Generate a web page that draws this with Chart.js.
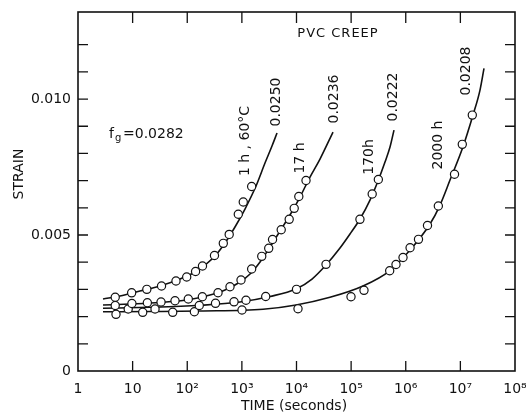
<!DOCTYPE html>
<html>
<head>
<meta charset="utf-8">
<script src="https://cdn.jsdelivr.net/npm/chart.js@4"></script>
<style>
  html, body { margin:0; padding:0; background:#fff; }
  #wrap { width:526px; height:417px; position:relative; }
</style>
</head>
<body>
<div id="wrap"><canvas id="creepChart"></canvas></div>
<script>
// axis ticks
const xTickValues = [1, 10, 1e2, 1e3, 1e4, 1e5, 1e6, 1e7, 1e8];
const xTickLabels = ['1', '10', '10²', '10³', '10⁴', '10⁵', '10⁶', '10⁷', '10⁸'];
const yTickValues = [0, 0.005, 0.010];
const yTickLabels = ['0', '0.005', '0.010'];

// measured points (time in s, strain)
const c1Time = [4.8, 9.6, 18.2, 33.8, 62.2, 97.7, 142, 190, 315, 457, 586, 860, 1060, 1510];
const c1Strain = [0.00271, 0.002875, 0.003003, 0.003125, 0.003309, 0.003456, 0.003658, 0.00386, 0.004246, 0.004694, 0.005022, 0.005764, 0.006213, 0.006782];
const c2Time = [4.8, 9.7, 18.6, 33.1, 59.7, 104.5, 189, 366, 606, 964, 1510, 2310, 3100, 3640, 5250, 7350, 9080, 11020, 14930];
const c2Strain = [0.002408, 0.002481, 0.002511, 0.002536, 0.002584, 0.002647, 0.002731, 0.002878, 0.003099, 0.003345, 0.00375, 0.004216, 0.004511, 0.004834, 0.005194, 0.005577, 0.005981, 0.006415, 0.007003];
const c3Time = [8.3, 25.7, 166, 329, 718, 1190, 2730, 10000, 34700, 145000, 243000, 315000];
const c3Strain = [0.002279, 0.002279, 0.002408, 0.002489, 0.002544, 0.002603, 0.002739, 0.003003, 0.003922, 0.005577, 0.006507, 0.00704];
const c4Time = [4.96, 15.3, 54.2, 135, 1005, 10650, 99500, 172000, 508000, 663000, 891000, 1.2e6, 1.71e6, 2.5e6, 3.95e6, 7.81e6, 1.084e7, 1.653e7];
const c4Strain = [0.002084, 0.002158, 0.002158, 0.00218, 0.002242, 0.00229, 0.002731, 0.002967, 0.003687, 0.003915, 0.004172, 0.004533, 0.004841, 0.005349, 0.006065, 0.007234, 0.008333, 0.00941];

// fitted curves
const f1Time = [2.87, 5.87, 13.6, 31.7, 73.7, 139, 211, 322, 491, 748, 1140, 1815, 2650, 3560, 4400];
const f1Strain = [0.002647, 0.002757, 0.002941, 0.003125, 0.003382, 0.003639, 0.003897, 0.004228, 0.004705, 0.005294, 0.005955, 0.006801, 0.007646, 0.008272, 0.008749];
const f2Time = [2.87, 8.95, 31.7, 112, 261, 491, 924, 1410, 2150, 3270, 4990, 7600, 11590, 17660, 26920, 46600];
const f2Strain = [0.002426, 0.002463, 0.002518, 0.002628, 0.002794, 0.002978, 0.003272, 0.003566, 0.004007, 0.004558, 0.005146, 0.005735, 0.006396, 0.007131, 0.007793, 0.008786];
const f3Time = [2.87, 20.8, 171, 924, 3270, 9800, 19230, 34670, 62550, 95340, 145400, 221600, 310500, 417000, 515000, 609500];
const f3Strain = [0.002305, 0.002342, 0.002415, 0.002536, 0.002739, 0.003014, 0.003382, 0.003897, 0.004521, 0.005036, 0.005588, 0.006286, 0.006984, 0.007683, 0.008234, 0.008859];
const f4Time = [2.87, 20.8, 171, 2440, 9800, 41050, 165000, 515000, 1.2e6, 2.78e6, 4.24e6, 6.46e6, 1.117e7, 1.703e7, 2.287e7, 2.707e7];
const f4Strain = [0.002176, 0.002187, 0.002206, 0.002268, 0.002426, 0.002709, 0.003125, 0.003694, 0.004448, 0.005404, 0.006102, 0.007021, 0.008245, 0.00941, 0.01033, 0.011127];

// curve labels
const agingLabels = ['1 h , 60°C', '17 h', '170h', '2000 h'];
const fgLabels = ['0.0250', '0.0236', '0.0222', '0.0208'];

const INK = '#111';
const FONT = '"DejaVu Sans", sans-serif';

function pts(xs, ys){
  return xs.map((x,i)=>({ x, y: ys[i] }));
}

function circles(xs, ys){
  return {
    data: pts(xs, ys), showLine:false, order:0,
    pointRadius:4.1, pointBackgroundColor:'#fff', pointBorderColor:INK, pointBorderWidth:1.2
  };
}

function fitLine(xs, ys){
  return {
    data: pts(xs, ys), showLine:true, order:1, fill:false,
    borderColor:INK, borderWidth:1.6, pointRadius:0, cubicInterpolationMode:'monotone'
  };
}

// frame, inward ticks and annotations
const decorPlugin = {
  id:'decor',
  afterDraw(chart){
    const { ctx, chartArea:a, scales:{ x, y } } = chart;
    ctx.save();
    ctx.strokeStyle = INK;
    ctx.lineWidth = 1.6;
    ctx.strokeRect(a.left, a.top, a.right - a.left, a.bottom - a.top);

    ctx.lineWidth = 1.3;
    ctx.beginPath();
    for(let i=1;i<xTickValues.length-1;i++){
      const px = x.getPixelForValue(xTickValues[i]);
      ctx.moveTo(px, a.bottom); ctx.lineTo(px, a.bottom - 10);
      ctx.moveTo(px, a.top); ctx.lineTo(px, a.top + 11);
    }
    for(let k=1;k<=12;k++){
      const py = y.getPixelForValue(k/1000);
      ctx.moveTo(a.left, py); ctx.lineTo(a.left + 10, py);
      ctx.moveTo(a.right, py); ctx.lineTo(a.right - 10, py);
    }
    ctx.stroke();

    ctx.fillStyle = INK;
    ctx.textBaseline = 'middle';
    ctx.textAlign = 'center';

    // axis titles
    ctx.font = '14px ' + FONT;
    ctx.fillText('TIME (seconds)', 294, 406);
    rotText(ctx, 'STRAIN', 19, 174, '14px ' + FONT);

    ctx.font = '13px ' + FONT;
    ctx.letterSpacing = '1px';
    ctx.fillText('PVC CREEP', 338, 34);
    ctx.letterSpacing = '0px';

    // f_g = 0.0282
    ctx.textAlign = 'left';
    ctx.textBaseline = 'alphabetic';
    ctx.font = '14px ' + FONT;
    ctx.fillText('f', 109, 138);
    ctx.font = '10px ' + FONT;
    ctx.fillText('g', 115, 141);
    ctx.font = '14px ' + FONT;
    ctx.fillText('=0.0282', 123, 138);

    const agingPos = [[245,141],[300,158],[369,157],[438,145]];
    const fgPos = [[276,102],[334,99],[393,97],[466,71]];
    agingLabels.forEach((t,i)=> rotText(ctx, t, agingPos[i][0], agingPos[i][1], '14px ' + FONT));
    fgLabels.forEach((t,i)=> rotText(ctx, t, fgPos[i][0], fgPos[i][1], '14px ' + FONT));
    ctx.restore();
  }
};

function rotText(ctx, text, cx, cy, font){
  ctx.save();
  ctx.translate(cx, cy);
  ctx.rotate(-Math.PI/2);
  ctx.font = font;
  ctx.textAlign = 'center';
  ctx.textBaseline = 'middle';
  ctx.fillText(text, 0, 0);
  ctx.restore();
}

new Chart(document.getElementById('creepChart').getContext('2d'), {
  type:'scatter',
  data:{
    datasets:[
      circles(c1Time, c1Strain), circles(c2Time, c2Strain),
      circles(c3Time, c3Strain), circles(c4Time, c4Strain),
      fitLine(f1Time, f1Strain), fitLine(f2Time, f2Strain),
      fitLine(f3Time, f3Strain), fitLine(f4Time, f4Strain)
    ]
  },
  options:{
    animation:false,
    responsive:true,
    maintainAspectRatio:false,
    layout:{ padding:{ top:12, right:11, left:0, bottom:0 } },
    plugins:{ legend:{display:false}, tooltip:{enabled:false} },
    scales:{
      x:{
        type:'logarithmic', min:1, max:1e8,
        grid:{display:false, drawTicks:false},
        border:{display:false},
        ticks:{
          color:INK, font:{family:FONT, size:14}, padding:10,
          maxRotation:0, autoSkip:false,
          callback:(v,i)=> xTickLabels[i]
        },
        afterBuildTicks:(s)=>{ s.ticks = xTickValues.map(v=>({ value:v })); },
        afterFit:(s)=>{ s.height = 46; s.paddingLeft = 0; s.paddingRight = 0; }
      },
      y:{
        type:'linear', min:0, max:0.0132,
        grid:{display:false, drawTicks:false},
        border:{display:false},
        ticks:{
          color:INK, font:{family:FONT, size:14}, padding:7,
          callback:(v,i)=> yTickLabels[i]
        },
        afterBuildTicks:(s)=>{ s.ticks = yTickValues.map(v=>({ value:v })); },
        afterFit:(s)=>{ s.width = 78; s.paddingTop = 0; s.paddingBottom = 0; }
      }
    }
  },
  plugins:[decorPlugin]
});
</script>
</body>
</html>
